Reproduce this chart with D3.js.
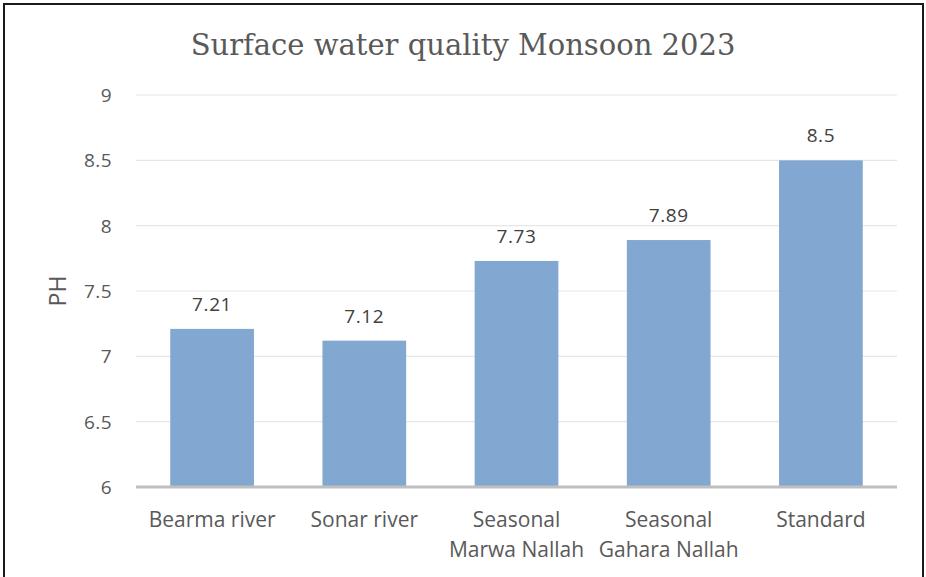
<!DOCTYPE html>
<html>
<head>
<meta charset="utf-8">
<script src="https://cdn.jsdelivr.net/npm/d3@7"></script>
<style>
  html, body { margin: 0; padding: 0; background: #fff; }
  svg { display: block; }
</style>
</head>
<body>
<svg id="chart" width="926" height="577"></svg>
<script>
// chart data
const categories = [
  ['Bearma river'],
  ['Sonar river'],
  ['Seasonal', 'Marwa Nallah'],
  ['Seasonal', 'Gahara Nallah'],
  ['Standard']
];
const phValues = [7.21, 7.12, 7.73, 7.89, 8.5];
const yTicks = [6, 6.5, 7, 7.5, 8, 8.5, 9];
const valueLabels = ['7.21', '7.12', '7.73', '7.89', '8.5'];

const width = 926, height = 577;
const margin = { top: 95, right: 29, bottom: 90, left: 136 };
const svg = d3.select('#chart');

// outer frame like the pasted chart
svg.append('rect')
  .attr('x', 4).attr('y', 4)
  .attr('width', 919).attr('height', 580)
  .attr('fill', '#fff')
  .attr('stroke', '#1a1a1a')
  .attr('stroke-width', 2);

const x = d3.scaleBand()
  .domain(categories.map((d, i) => i))
  .range([margin.left, width - margin.right])
  .paddingInner(0.45)
  .paddingOuter(0.225);

const y = d3.scaleLinear()
  .domain([6, 9])
  .range([height - margin.bottom, margin.top]);

const sans = "'Open Sans', 'Noto Sans', sans-serif";

// gridlines
svg.append('g')
  .selectAll('line')
  .data(yTicks.slice(1))
  .join('line')
  .attr('x1', margin.left).attr('x2', width - margin.right)
  .attr('y1', d => y(d)).attr('y2', d => y(d))
  .attr('stroke', '#e6e6e6')
  .attr('stroke-width', 1.2);

// tick labels
svg.append('g')
  .selectAll('text')
  .data(yTicks)
  .join('text')
  .attr('x', 112)
  .attr('y', d => y(d))
  .attr('dy', '0.36em')
  .attr('text-anchor', 'end')
  .attr('fill', '#595959')
  .style('font-family', sans)
  .style('font-size', '19px')
  .style('letter-spacing', '0.4px')
  .text(d => d);

// bars
svg.append('g')
  .selectAll('rect')
  .data(phValues)
  .join('rect')
  .attr('x', (d, i) => x(i))
  .attr('y', d => y(d))
  .attr('width', x.bandwidth())
  .attr('height', d => y(6) - y(d))
  .attr('fill', '#82a7d0');

// value labels above bars
svg.append('g')
  .selectAll('text')
  .data(phValues)
  .join('text')
  .attr('x', (d, i) => x(i) + x.bandwidth() / 2)
  .attr('y', d => y(d) - 18)
  .attr('text-anchor', 'middle')
  .attr('fill', '#404040')
  .style('font-family', sans)
  .style('font-size', '19px')
  .style('letter-spacing', '0.6px')
  .text((d, i) => valueLabels[i]);

// x axis baseline
svg.append('line')
  .attr('x1', margin.left).attr('x2', width - margin.right)
  .attr('y1', y(6)).attr('y2', y(6))
  .attr('stroke', '#bfbfbf')
  .attr('stroke-width', 3);

// category labels (wrapped on two lines where needed)
const cat = svg.append('g')
  .selectAll('text')
  .data(categories)
  .join('text')
  .attr('text-anchor', 'middle')
  .attr('fill', '#595959')
  .style('font-family', sans)
  .style('font-size', '21px');

cat.selectAll('tspan')
  .data((d, i) => d.map(line => ({ line, i })))
  .join('tspan')
  .attr('x', d => x(d.i) + x.bandwidth() / 2)
  .attr('y', (d, j) => 527 + j * 30)
  .text(d => d.line);

// y axis title
svg.append('text')
  .attr('transform', `translate(66, ${y(7.5)}) rotate(-90)`)
  .attr('text-anchor', 'middle')
  .attr('fill', '#595959')
  .style('font-family', sans)
  .style('font-size', '23px')
  .text('PH');

// chart title
svg.append('text')
  .attr('x', 463)
  .attr('y', 55)
  .attr('text-anchor', 'middle')
  .attr('fill', '#595959')
  .style('font-family', "'DejaVu Serif', 'Liberation Serif', serif")
  .style('font-size', '29px')
  .text('Surface water quality Monsoon 2023');
</script>
</body>
</html>
